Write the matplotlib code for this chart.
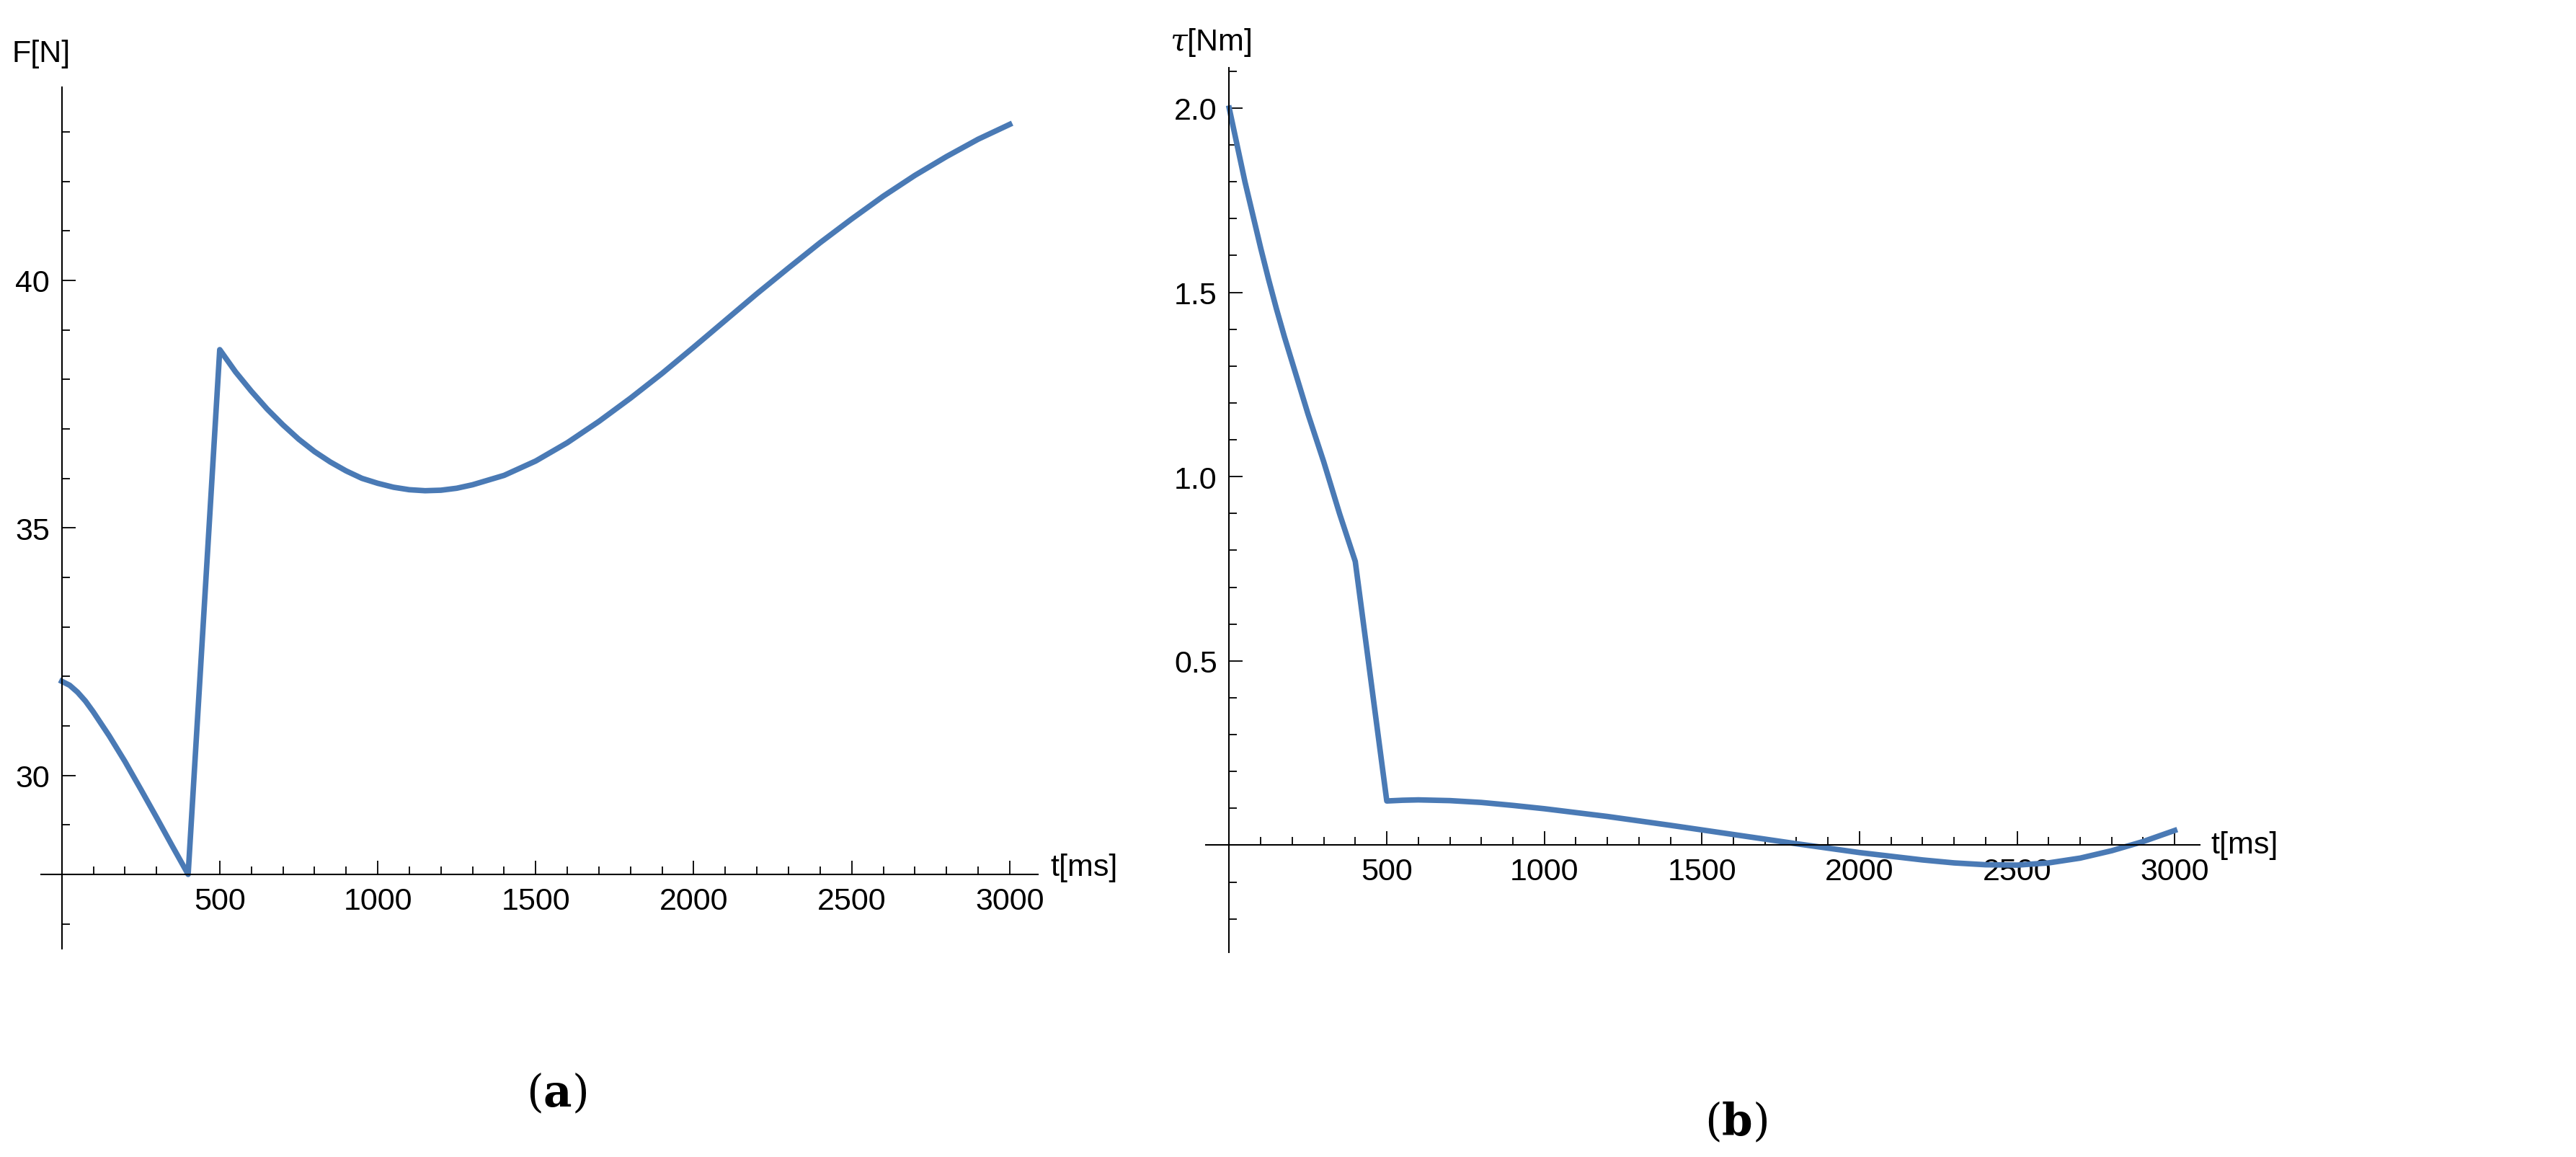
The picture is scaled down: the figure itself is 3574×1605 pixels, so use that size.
import matplotlib
matplotlib.use("Agg")
import matplotlib.pyplot as plt
from matplotlib.ticker import MultipleLocator, FixedLocator

# force curve (a)
t_force = [0, 25, 50, 75, 100, 150, 200, 250, 300, 350, 400, 500, 550, 600, 650, 700,
           750, 800, 850, 900, 950, 1000, 1050, 1100, 1150, 1200, 1250, 1300, 1400,
           1500, 1600, 1700, 1800, 1900, 2000, 2100, 2200, 2300, 2400, 2500, 2600,
           2700, 2800, 2900, 3000]
force = [31.9, 31.82, 31.68, 31.5, 31.28, 30.8, 30.28, 29.72, 29.15, 28.57, 28.0,
         38.6, 38.15, 37.76, 37.4, 37.08, 36.79, 36.54, 36.33, 36.15, 36.0, 35.9,
         35.82, 35.77, 35.75, 35.76, 35.8, 35.87, 36.06, 36.35, 36.72, 37.15, 37.62,
         38.12, 38.65, 39.19, 39.73, 40.25, 40.76, 41.24, 41.7, 42.12, 42.5, 42.85,
         43.15]

# torque curve (b)
t_torque = [0, 25, 50, 75, 100, 125, 150, 175, 200, 250, 300, 350, 400, 500, 550, 600,
            700, 800, 900, 1000, 1200, 1400, 1600, 1800, 2000, 2200, 2300, 2400, 2500,
            2600, 2700, 2800, 2900, 3000]
torque = [2.0, 1.9, 1.8, 1.71, 1.62, 1.535, 1.455, 1.38, 1.31, 1.17, 1.04, 0.9, 0.77,
          0.12, 0.122, 0.123, 0.121, 0.116, 0.108, 0.099, 0.078, 0.054, 0.029, 0.004,
          -0.02, -0.04, -0.048, -0.053, -0.054, -0.048, -0.035, -0.015, 0.01, 0.04]

x_major = [500, 1000, 1500, 2000, 2500, 3000]
line_color = "#4a7ab5"

plt.rcParams['font.family'] = ['Liberation Sans', 'DejaVu Sans']
plt.rcParams['mathtext.fontset'] = 'dejavuserif'

fig = plt.figure(figsize=(35.74, 16.06), dpi=100)
ax1 = fig.add_axes([0.016, 0.180, 0.387, 0.744])
ax2 = fig.add_axes([0.468, 0.177, 0.386, 0.764])


def style(ax, ybase):
    for s in ['top', 'right']:
        ax.spines[s].set_visible(False)
    ax.spines['left'].set_position(('data', 0))
    ax.spines['bottom'].set_position(('data', ybase))
    for s in ['left', 'bottom']:
        ax.spines[s].set_linewidth(1.5)
    ax.xaxis.set_major_locator(FixedLocator(x_major))
    ax.xaxis.set_minor_locator(MultipleLocator(100))
    ax.tick_params(which='both', direction='in', width=1.3, labelsize=31, pad=12)
    ax.tick_params(which='major', length=14)
    ax.tick_params(which='minor', length=8)
    ax.patch.set_visible(False)


ax1.plot(t_force, force, color=line_color, lw=5.5)
ax1.set_xlim(-65, 3090)
ax1.set_ylim(26.5, 43.9)
style(ax1, 28)
ax1.yaxis.set_major_locator(FixedLocator([30, 35, 40]))
ax1.yaxis.set_minor_locator(MultipleLocator(1))
ax1.text(0.0, 1.03, "F[N]", transform=ax1.transAxes, fontsize=31, ha='center')
ax1.text(3130, 28.15, "t[ms]", fontsize=31, va='center')

ax2.plot(t_torque, torque, color=line_color, lw=5.5)
ax2.set_xlim(-75, 3080)
ax2.set_ylim(-0.29, 2.11)
style(ax2, 0)
ax2.yaxis.set_major_locator(FixedLocator([0.5, 1.0, 1.5, 2.0]))
ax2.yaxis.set_major_formatter(matplotlib.ticker.FormatStrFormatter('%.1f'))
ax2.yaxis.set_minor_locator(MultipleLocator(0.1))
ax2.text(0.005, 1.02, r"$\tau$[Nm]", transform=ax2.transAxes, fontsize=31, ha='center')
ax2.text(3115, 0, "t[ms]", fontsize=31, va='center')

fig.text(0.216, 0.055, r"$(\mathbf{a})$", fontsize=44, ha='center', va='center')
fig.text(0.674, 0.03, r"$(\mathbf{b})$", fontsize=44, ha='center', va='center')

fig.savefig("out.png", dpi=100)
